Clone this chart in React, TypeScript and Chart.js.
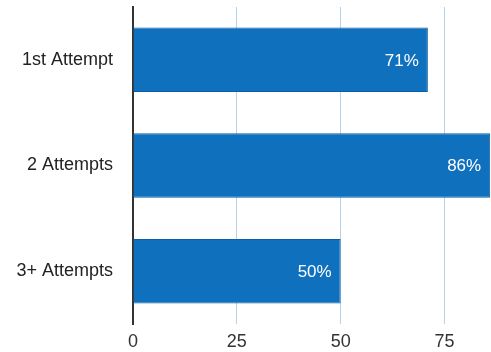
import React, { useEffect, useRef } from "react";
import { Chart, registerables } from "chart.js";

Chart.register(...registerables);

const categories = ["1st Attempt", "2 Attempts", "3+ Attempts"];
const values = [71, 86, 50];
const xTicks = [0, 25, 50, 75];
const xMax = 86.2;

const valueLabels = {
  id: "valueLabels",
  afterDatasetsDraw(chart: any) {
    const ctx = chart.ctx;
    const meta = chart.getDatasetMeta(0);
    ctx.save();
    ctx.font = "17px 'Liberation Sans', Arial, sans-serif";
    ctx.fillStyle = "#ffffff";
    ctx.textAlign = "right";
    ctx.textBaseline = "middle";
    meta.data.forEach((bar: any, i: number) => {
      ctx.fillText(values[i] + "%", bar.x - 9, bar.y + 1);
    });
    ctx.restore();
  },
};

export default function App() {
  const ref = useRef<HTMLCanvasElement>(null);
  useEffect(() => {
    if (!ref.current) return;
    const chart = new Chart(ref.current, {
      type: "bar",
      data: {
        labels: categories,
        datasets: [
          {
            data: values,
            backgroundColor: "#0f70be",
            borderColor: "#0c5fa6",
            borderWidth: 1,
            categoryPercentage: 1,
            barPercentage: 0.61,
          },
        ],
      },
      options: {
        indexAxis: "y",
        animation: false,
        responsive: true,
        maintainAspectRatio: false,
        layout: { padding: { top: 7, left: 0, right: 0, bottom: 0 } },
        plugins: { legend: { display: false }, tooltip: { enabled: false } },
        scales: {
          x: {
            min: 0,
            max: xMax,
            afterBuildTicks: (scale: any) => {
              scale.ticks = xTicks.map((v) => ({ value: v }));
            },
            afterFit: (scale: any) => {
              scale.height = 28;
              scale.paddingLeft = 0;
              scale.paddingRight = 0;
            },
            grid: { color: "#b7d3ea", lineWidth: 1, drawTicks: false },
            border: { display: false },
            ticks: {
              color: "#333333",
              padding: 7,
              font: { size: 18, family: "'Liberation Sans', Arial, sans-serif" },
            },
          },
          y: {
            afterFit: (scale: any) => {
              scale.width = 133;
              scale.paddingTop = 0;
              scale.paddingBottom = 0;
            },
            grid: { display: false, drawTicks: false },
            border: { display: true, color: "#333333", width: 2 },
            ticks: {
              color: "#222222",
              padding: 20,
              font: { size: 18, family: "'Liberation Sans', Arial, sans-serif" },
            },
          },
        },
      },
      plugins: [valueLabels],
    });
    return () => chart.destroy();
  }, []);
  return (
    <div style={{ position: "fixed", left: 0, top: 0, width: 491, height: 352, background: "#fff" }}>
      <canvas ref={ref} />
    </div>
  );
}
